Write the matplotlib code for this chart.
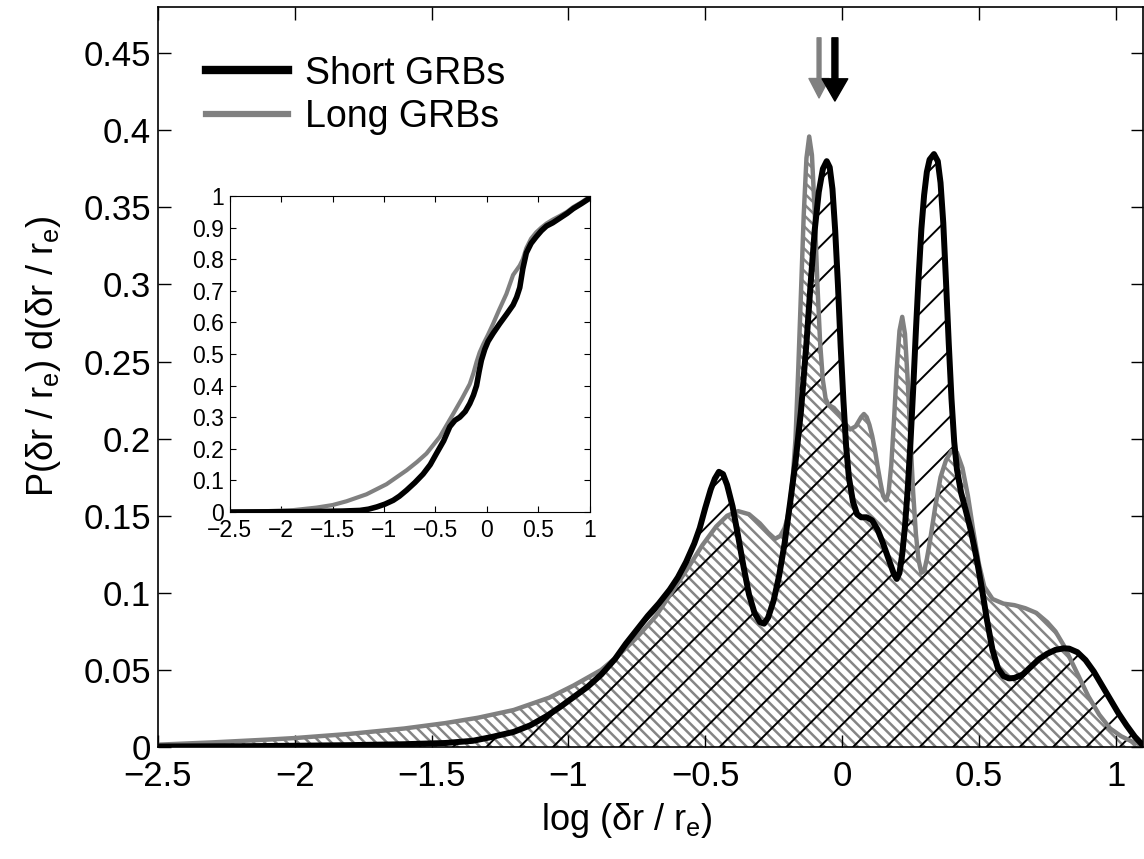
import numpy as np
import matplotlib
matplotlib.use('Agg')
import matplotlib.pyplot as plt
from matplotlib.lines import Line2D

plt.rcParams['font.family'] = ['Liberation Sans', 'DejaVu Sans']
plt.rcParams['mathtext.fontset'] = 'custom'
plt.rcParams['mathtext.rm'] = 'Liberation Sans'
plt.rcParams['mathtext.it'] = 'Liberation Sans'

# short GRBs: P(dr/re) vs log(dr/re)
short_x = [-2.5, -2.2, -2.0, -1.8, -1.6, -1.45, -1.35, -1.28, -1.2, -1.14, -1.08, -1.03, -0.98,
           -0.93, -0.88, -0.83, -0.79, -0.75, -0.71, -0.67, -0.63, -0.60, -0.57, -0.54, -0.52,
           -0.50, -0.48, -0.465, -0.45, -0.435, -0.42, -0.40, -0.38, -0.36, -0.34, -0.32, -0.30,
           -0.285, -0.27, -0.25, -0.23, -0.21, -0.19, -0.17, -0.15, -0.13, -0.115, -0.10, -0.085,
           -0.07, -0.056, -0.045, -0.035, -0.025, -0.015, -0.005, 0.005, 0.015, 0.025, 0.04,
           0.055, 0.07, 0.09, 0.11, 0.13, 0.15, 0.17, 0.19, 0.20, 0.21, 0.22, 0.23, 0.24, 0.25,
           0.26, 0.27, 0.28, 0.29, 0.30, 0.31, 0.32, 0.336, 0.35, 0.36, 0.37, 0.38, 0.39, 0.40,
           0.41, 0.42, 0.435, 0.45, 0.47, 0.49, 0.51, 0.53, 0.55, 0.57, 0.59, 0.61, 0.63, 0.66,
           0.69, 0.72, 0.75, 0.78, 0.81, 0.83, 0.86, 0.89, 0.92, 0.95, 0.98, 1.01, 1.04, 1.07,
           1.1]
short_y = [0.0003, 0.0005, 0.0008, 0.0012, 0.0018, 0.0026, 0.004, 0.0065, 0.0098, 0.014, 0.020,
           0.026, 0.0325, 0.039, 0.047, 0.057, 0.067, 0.076, 0.085, 0.093, 0.102, 0.110, 0.120,
           0.132, 0.142, 0.155, 0.167, 0.174, 0.1785, 0.177, 0.170, 0.156, 0.137, 0.117, 0.099,
           0.087, 0.081, 0.080, 0.084, 0.095, 0.111, 0.132, 0.158, 0.185, 0.218, 0.262, 0.30,
           0.335, 0.360, 0.375, 0.380, 0.376, 0.362, 0.335, 0.30, 0.26, 0.225, 0.195, 0.175,
           0.159, 0.151, 0.149, 0.149, 0.147, 0.141, 0.132, 0.122, 0.112, 0.109, 0.113, 0.125,
           0.143, 0.167, 0.197, 0.232, 0.27, 0.305, 0.336, 0.358, 0.373, 0.381, 0.3846, 0.380,
           0.366, 0.340, 0.302, 0.262, 0.226, 0.198, 0.180, 0.165, 0.155, 0.141, 0.124, 0.104,
           0.082, 0.063, 0.051, 0.046, 0.0445, 0.0448, 0.047, 0.052, 0.057, 0.0605, 0.063,
           0.064, 0.0638, 0.0615, 0.0564, 0.049, 0.040, 0.031, 0.022, 0.014, 0.0067, 0.001]

# long GRBs
long_x = [-2.5, -2.3, -2.1, -2.0, -1.8, -1.6, -1.45, -1.33, -1.2, -1.07, -0.98, -0.88, -0.82,
          -0.75, -0.68, -0.62, -0.56, -0.51, -0.46, -0.42, -0.38, -0.34, -0.30, -0.27, -0.245,
          -0.225, -0.21, -0.20, -0.19, -0.18, -0.17, -0.16, -0.15, -0.14, -0.13, -0.12, -0.11,
          -0.10, -0.09, -0.08, -0.07, -0.06, -0.05, -0.03, -0.01, 0.01, 0.03, 0.05, 0.07, 0.08,
          0.09, 0.10, 0.11, 0.12, 0.13, 0.14, 0.15, 0.16, 0.17, 0.18, 0.19, 0.20, 0.21, 0.22,
          0.23, 0.24, 0.25, 0.26, 0.27, 0.28, 0.29, 0.30, 0.31, 0.32, 0.34, 0.36, 0.38, 0.40,
          0.42, 0.44, 0.46, 0.48, 0.50, 0.52, 0.55, 0.59, 0.63, 0.67, 0.71, 0.75, 0.78, 0.81,
          0.84, 0.87, 0.90, 0.94, 0.98, 1.02, 1.06, 1.1]
long_y = [0.0015, 0.003, 0.0048, 0.0058, 0.0085, 0.012, 0.0155, 0.019, 0.024, 0.032, 0.040,
          0.050, 0.059, 0.071, 0.085, 0.101, 0.117, 0.131, 0.143, 0.150, 0.153, 0.151, 0.145,
          0.139, 0.135, 0.137, 0.142, 0.148, 0.158, 0.175, 0.200, 0.245, 0.295, 0.345, 0.382,
          0.396, 0.384, 0.348, 0.300, 0.262, 0.238, 0.226, 0.222, 0.220, 0.216, 0.210, 0.206,
          0.208, 0.214, 0.216, 0.214, 0.209, 0.202, 0.193, 0.182, 0.172, 0.163, 0.160, 0.165,
          0.183, 0.212, 0.245, 0.270, 0.279, 0.268, 0.238, 0.200, 0.165, 0.138, 0.121, 0.113,
          0.114, 0.122, 0.132, 0.155, 0.175, 0.186, 0.192, 0.191, 0.181, 0.163, 0.140, 0.119,
          0.104, 0.096, 0.093, 0.092, 0.090, 0.087, 0.081, 0.075, 0.066, 0.055, 0.044, 0.033,
          0.021, 0.012, 0.007, 0.0035, 0.001]

# cumulative distributions (inset)
cdf_long_x = [-2.5, -2.2, -1.88, -1.655, -1.5, -1.364, -1.17, -0.975, -0.78, -0.68, -0.587,
              -0.457, -0.328, -0.24, -0.166, -0.13, -0.10, -0.07, -0.036, 0.01, 0.06, 0.12, 0.19,
              0.255, 0.32, 0.35, 0.384, 0.43, 0.48, 0.53, 0.58, 0.64, 0.71, 0.78, 0.84, 0.92, 1.0]
cdf_long_y = [0.0, 0.002, 0.006, 0.014, 0.022, 0.034, 0.056, 0.088, 0.132, 0.158, 0.185, 0.238,
              0.31, 0.36, 0.405, 0.44, 0.475, 0.505, 0.53, 0.56, 0.595, 0.64, 0.69, 0.75, 0.78,
              0.80, 0.835, 0.865, 0.885, 0.90, 0.913, 0.925, 0.937, 0.95, 0.965, 0.98, 0.998]
cdf_short_x = [-2.5, -1.8, -1.4, -1.234, -1.15, -1.07, -0.99, -0.91, -0.85, -0.78, -0.70, -0.62,
               -0.55, -0.49, -0.42, -0.36, -0.31, -0.263, -0.21, -0.166, -0.13, -0.10, -0.075,
               -0.053, -0.02, 0.012, 0.06, 0.125, 0.19, 0.255, 0.29, 0.32, 0.35, 0.384, 0.43,
               0.48, 0.53, 0.58, 0.64, 0.71, 0.78, 0.84, 0.92, 1.0]
cdf_short_y = [0.0, 0.001, 0.003, 0.005, 0.009, 0.016, 0.025, 0.037, 0.05, 0.069, 0.093, 0.12,
               0.15, 0.185, 0.225, 0.27, 0.29, 0.30, 0.318, 0.343, 0.37, 0.40, 0.445, 0.48,
               0.515, 0.54, 0.565, 0.596, 0.625, 0.655, 0.68, 0.71, 0.77, 0.82, 0.85, 0.871,
               0.89, 0.905, 0.915, 0.93, 0.945, 0.96, 0.976, 0.993]

# medians marked by arrows
median_long = -0.084
median_short = -0.026

fig = plt.figure(figsize=(11.44, 8.59), dpi=100)
ax = fig.add_axes([158/1144, 112/859, 985/1144, 740/859])

with plt.rc_context({'hatch.linewidth': 1.8}):
    ax.fill_between(long_x, long_y, 0, facecolor='none', edgecolor='#858585', hatch='\\\\\\', linewidth=0)
with plt.rc_context({'hatch.linewidth': 1.4}):
    ax.fill_between(short_x, short_y, 0, facecolor='none', edgecolor='black', hatch='/', linewidth=0)
ax.plot(long_x, long_y, color='#808080', lw=3.2, solid_joinstyle='round')
ax.plot(short_x, short_y, color='black', lw=4.3, solid_joinstyle='round')

ax.annotate('', xy=(median_long, 0.421), xytext=(median_long, 0.46),
            arrowprops=dict(facecolor='#808080', edgecolor='#808080', width=2.8, headwidth=14.5, headlength=14))
ax.annotate('', xy=(median_short, 0.419), xytext=(median_short, 0.46),
            arrowprops=dict(facecolor='black', edgecolor='black', width=4.3, headwidth=18.5, headlength=16))

ax.set_xlim(-2.5, 1.1)
ax.set_ylim(0, 0.48)
ax.set_xticks(np.arange(-2.5, 1.01, 0.5))
ax.set_xticklabels(['\u22122.5', '\u22122', '\u22121.5', '\u22121', '\u22120.5', '0', '0.5', '1'])
ax.set_yticks(np.arange(0, 0.451, 0.05))
ax.set_yticklabels(['0', '0.05', '0.1', '0.15', '0.2', '0.25', '0.3', '0.35', '0.4', '0.45'])
ax.tick_params(direction='in', length=9, width=1, top=True, right=True, labelsize=25)
ax.tick_params(axis='x', pad=9)
ax.tick_params(axis='y', pad=5)
for s in ax.spines.values():
    s.set_linewidth(1.2)
ax.set_xlabel(r'log ($\delta$r / r$_\mathregular{e}$)', fontsize=26, labelpad=6)
ax.set_ylabel(r'P($\delta$r / r$_\mathregular{e}$) d($\delta$r / r$_\mathregular{e}$)', fontsize=26)
ax.xaxis.label.set_x(0.476)
ax.yaxis.set_label_coords(-0.096, 0.528)

handles = [Line2D([], [], color='black', lw=6), Line2D([], [], color='#808080', lw=4.5)]
ax.legend(handles, ['Short GRBs', 'Long GRBs'], loc='upper left', bbox_to_anchor=(0.014, 0.98),
          frameon=False, fontsize=27, handlelength=2.2, handletextpad=0.45, labelspacing=0.2)

# inset with cumulative distributions
axi = fig.add_axes([229.7/1144, 347/859, 360/1144, 316/859])
axi.plot(cdf_long_x, cdf_long_y, color='#808080', lw=3)
axi.plot(cdf_short_x, cdf_short_y, color='black', lw=4)
axi.set_xlim(-2.5, 1)
axi.set_ylim(0, 1)
axi.set_xticks(np.arange(-2.5, 1.01, 0.5))
axi.set_xticklabels(['\u22122.5', '\u22122', '\u22121.5', '\u22121', '\u22120.5', '0', '0.5', '1'])
axi.set_yticks(np.arange(0, 1.01, 0.1))
axi.set_yticklabels(['0', '0.1', '0.2', '0.3', '0.4', '0.5', '0.6', '0.7', '0.8', '0.9', '1'])
axi.tick_params(direction='in', length=4, width=0.8, top=True, right=True, labelsize=16.5)
axi.tick_params(axis='x', pad=5)
axi.tick_params(axis='y', pad=4)

fig.savefig('out.png', dpi=100)
